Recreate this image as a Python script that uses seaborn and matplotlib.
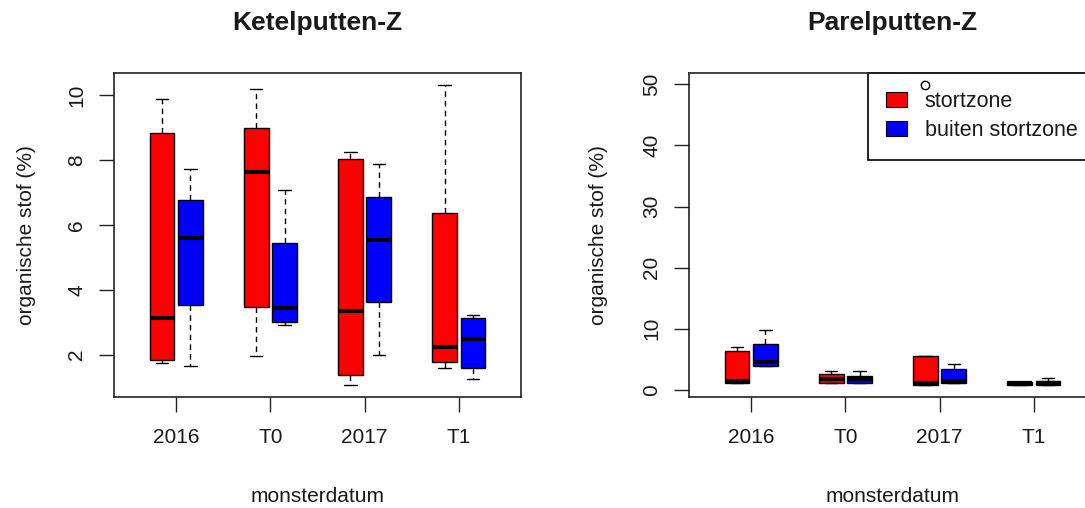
import numpy as np
import pandas as pd
import matplotlib
matplotlib.use("Agg")
import matplotlib.pyplot as plt
from matplotlib.patches import Patch
import seaborn as sns

# ---------------- data ----------------
categories = ["2016", "T0", "2017", "T1"]
zones = ["stortzone", "buiten stortzone"]
zone_colors = ["#ff0000", "#0000ff"]

# per category: [lower whisker, Q1, median, Q3, upper whisker]
ketel_stortzone = [[1.74, 1.83, 3.12, 8.83, 9.89],
                   [1.95, 3.46, 7.62, 8.99, 10.20],
                   [1.06, 1.37, 3.33, 8.03, 8.24],
                   [1.59, 1.78, 2.22, 6.38, 10.32]]
ketel_buiten = [[1.64, 3.52, 5.60, 6.76, 7.72],
                [2.90, 2.99, 3.43, 5.44, 7.07],
                [2.00, 3.63, 5.54, 6.87, 7.87],
                [1.26, 1.57, 2.47, 3.12, 3.21]]
parel_stortzone = [[1.1, 1.2, 1.5, 6.4, 7.0],
                   [1.1, 1.1, 1.75, 2.55, 3.1],
                   [0.8, 0.8, 1.2, 5.6, 5.6],
                   [0.8, 0.8, 1.1, 1.35, 1.35]]
parel_buiten = [[3.9, 3.9, 4.5, 7.5, 9.8],
                [1.1, 1.1, 1.75, 2.3, 3.1],
                [1.1, 1.1, 1.5, 3.4, 4.25],
                [0.8, 0.8, 1.2, 1.5, 2.0]]
parel_outliers = {("2017", "stortzone"): [49.9]}

ketel_yticks = [2, 4, 6, 8, 10]
parel_yticks = [0, 10, 20, 30, 40, 50]


def build_frame(stort, buiten, outliers=None):
    outliers = outliers or {}
    rows = []
    for zone, summ in zip(zones, [stort, buiten]):
        for cat, (lo, q1, med, q3, hi) in zip(categories, summ):
            vals = [lo, q1, q1, med, med, q3, q3, hi] + outliers.get((cat, zone), [])
            rows += [(cat, zone, v) for v in vals]
    return pd.DataFrame(rows, columns=["monsterdatum", "zone", "waarde"])


# ---------------- style ----------------
sns.set_style("white")
plt.rcParams["font.family"] = ["Liberation Sans", "DejaVu Sans"]
TXT = "#1a1a1a"

fig = plt.figure(figsize=(10.85, 5.08), dpi=100)
W, H = 1085, 508
ax_l = fig.add_axes([114 / W, 111 / H, 407 / W, 324 / H])
ax_r = fig.add_axes([689 / W, 111 / H, 407 / W, 324 / H])


def draw(ax, df, yticks, title, ylab_x):
    sns.boxplot(data=df, x="monsterdatum", y="waarde", hue="zone",
                order=categories, hue_order=zones, palette=zone_colors,
                saturation=1, width=0.6, gap=0.12, linecolor="black",
                linewidth=1.0, legend=False, ax=ax,
                whiskerprops=dict(linestyle=(0, (4, 3)), linewidth=1.0),
                capprops=dict(linewidth=1.0),
                medianprops=dict(linewidth=3, color="black"),
                flierprops=dict(marker="o", markerfacecolor="none",
                                markeredgecolor="black", markersize=6,
                                markeredgewidth=1.0))
    v = df["waarde"]
    r = v.max() - v.min()
    ax.set_ylim(v.min() - 0.04 * r, v.max() + 0.04 * r)
    ax.set_xlim(-0.66, 3.66)
    ax.set_yticks(yticks)
    ax.set_yticklabels([str(t) for t in yticks])
    for s in ax.spines.values():
        s.set_visible(True)
        s.set_linewidth(1.2)
        s.set_color("#222222")
    ax.tick_params(length=11, width=1, direction="out", labelsize=15,
                   color="#222222", labelcolor=TXT, bottom=True, left=True)
    ax.tick_params(axis="x", pad=11)
    ax.tick_params(axis="y", pad=9)
    plt.setp(ax.get_yticklabels(), rotation=90, va="center")
    ax.set_xlabel("monsterdatum", fontsize=15, color=TXT)
    ax.xaxis.set_label_coords(0.5, (397 - 502) / 324)
    ax.xaxis.label.set_va("baseline")
    ax.set_ylabel("organische stof (%)", fontsize=15, color=TXT)
    ax.yaxis.set_label_coords(ylab_x, 0.5)
    ax.yaxis.label.set_va("center")
    ax.text(0.5, (397 - 30) / 324, title, transform=ax.transAxes,
            ha="center", va="baseline", fontsize=19, fontweight="bold", color=TXT)


draw(ax_l, build_frame(ketel_stortzone, ketel_buiten), ketel_yticks,
     "Ketelputten-Z", (26 - 114) / 407)
draw(ax_r, build_frame(parel_stortzone, parel_buiten, parel_outliers), parel_yticks,
     "Parelputten-Z", (599 - 689) / 407)

handles = [Patch(facecolor=c, edgecolor="black", linewidth=0.8, label=z)
           for z, c in zip(zones, zone_colors)]
leg = ax_r.legend(handles=handles, loc="upper right", bbox_to_anchor=(1, 1),
                  borderaxespad=0, fontsize=15.5, frameon=True, fancybox=False,
                  edgecolor="black", framealpha=1, borderpad=0.85,
                  labelspacing=0.38, handlelength=0.95, handleheight=0.7,
                  handletextpad=0.85)
leg.get_frame().set_linewidth(1.2)
for t in leg.get_texts():
    t.set_color(TXT)
leg.set_zorder(1.5)

fig.savefig("out.png", dpi=100, facecolor="white")
